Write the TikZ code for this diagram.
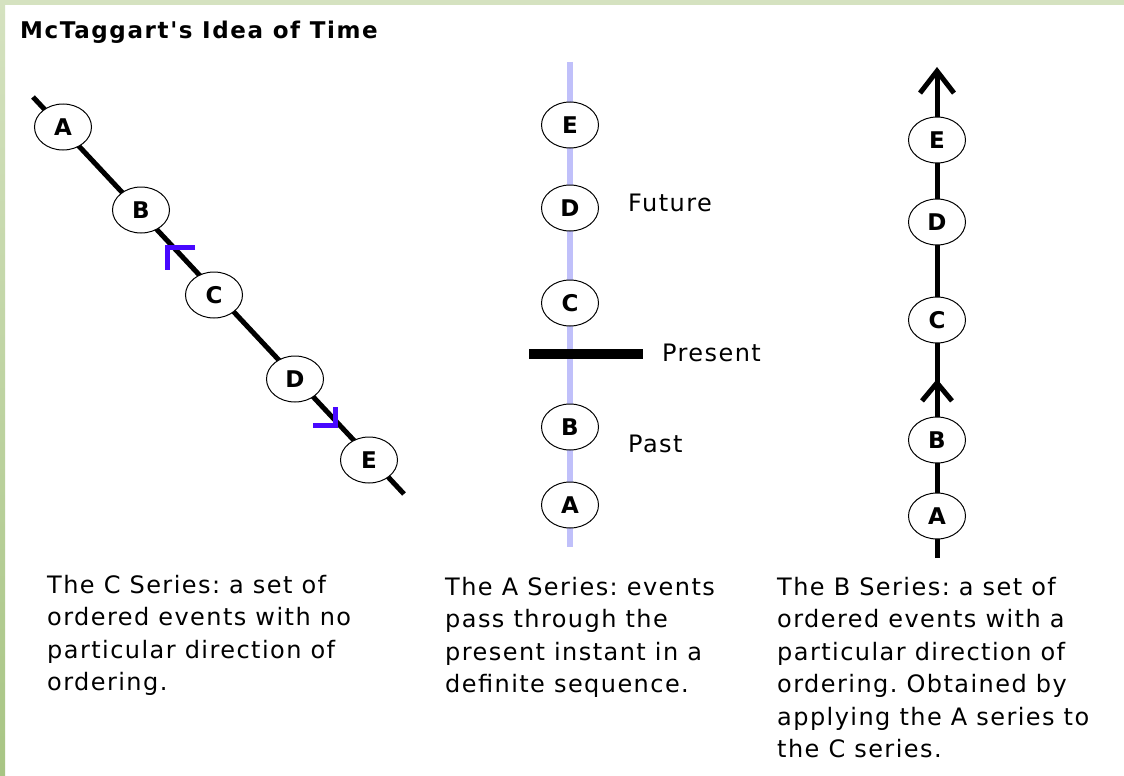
\documentclass[tikz,border=0pt]{standalone}
\usepackage{fontspec}
\setmainfont{DejaVu Sans}
\newfontfamily\bodyfont[LetterSpace=6]{DejaVu Sans}
\newfontfamily\titlefont[LetterSpace=7,Ligatures=TeXOff]{DejaVu Sans}
\usetikzlibrary{shapes.geometric,arrows.meta}
\definecolor{topgreen}{RGB}{213,226,192}
\definecolor{sidegreen}{RGB}{168,197,132}
\definecolor{paleline}{RGB}{192,192,250}
\definecolor{markblue}{RGB}{72,8,255}
\frenchspacing
\begin{document}
\begin{tikzpicture}[x=1pt,y=-1pt,
  event/.style={ellipse,draw,line width=1pt,fill=white,minimum width=57pt,
    minimum height=46pt,inner sep=0pt,font=\fontsize{23}{23}\selectfont\bfseries},
  caption/.style={anchor=north west,align=left,inner sep=0pt,
    font=\fontsize{24}{32.5}\bodyfont\frenchspacing},
  tag/.style={anchor=west,inner sep=0pt,font=\fontsize{24}{24}\bodyfont},
  axis/.style={line width=5pt},
  barb/.style={-{Straight Barb[length=22pt,width=34pt]}},
]
\useasboundingbox (0,0) rectangle (1124,776);
% page frame
\fill[white] (0,0) rectangle (1124,776);
\fill[topgreen] (0,0) rectangle (1124,5);
\shade[top color=topgreen,bottom color=sidegreen] (0,0) rectangle (5,776);

\node[anchor=base west,inner sep=0pt,font=\fontsize{23}{23}\titlefont\bfseries]
  (title) at (20,39) {McTaggart's Idea of Time};

% C series: undirected diagonal
\coordinate (cstart) at (33,97);
\coordinate (cend) at (404,494);
\draw[axis] (cstart) -- (cend);
\node[event] (cA) at (63,127) {A};
\node[event] (cB) at (141,210) {B};
\node[event] (cC) at (214,295) {C};
\node[event] (cD) at (295,379) {D};
\node[event] (cE) at (369,460) {E};
\coordinate (mup) at (167,247);
\coordinate (mdown) at (335,425);
\draw[markblue,line width=5pt] ([xshift=28pt]mup) -- (mup) -- ([yshift=-23pt]mup);
\draw[markblue,line width=5pt] ([yshift=18pt]mdown) -- (mdown) -- ([xshift=-22pt]mdown);

% A series: events passing the present
\coordinate (atop) at (570,62);
\coordinate (abot) at (570,547);
\draw[paleline,line width=6pt] (atop) -- (abot);
\node[event] (aE) at (570,125) {E};
\node[event] (aD) at (570,208) {D};
\node[event] (aC) at (570,303) {C};
\node[event] (aB) at (570,427) {B};
\node[event] (aA) at (570,505) {A};
\coordinate (pl) at (529,354);
\coordinate (pr) at (643,354);
\draw[line width=10pt] (pl) -- (pr);
\node[tag] (future) at (628,203) {Future};
\node[tag] (present) at (662,353) {Present};
\node[tag] (past) at (628,444) {Past};

% B series: directed vertical
\coordinate (bbot) at (937,558);
\coordinate (btop) at (937,67);
\coordinate (bmid) at (937,379);
\draw[axis,barb] (bbot) -- (btop);
\node[event] (bE) at (937,140) {E};
\node[event] (bD) at (937,222) {D};
\node[event] (bC) at (937,320) {C};
\node[event] (bB) at (937,440) {B};
\node[event] (bA) at (937,516) {A};
\draw[axis,-{Straight Barb[length=18pt,width=30pt]}] (bB.north) -- (bmid);

% captions
\node[caption] (ctext) at (47,575)
  {The C Series: a set of\\ordered events with no\\particular direction of\\ordering.};
\node[caption] (atext) at (445,577)
  {The A Series: events\\pass through the\\present instant in a\\definite sequence.};
\node[caption] (btext) at (777,577)
  {The B Series: a set of\\ordered events with a\\particular direction of\\ordering. Obtained by\\applying the A series to\\the C series.};
\end{tikzpicture}
\end{document}
